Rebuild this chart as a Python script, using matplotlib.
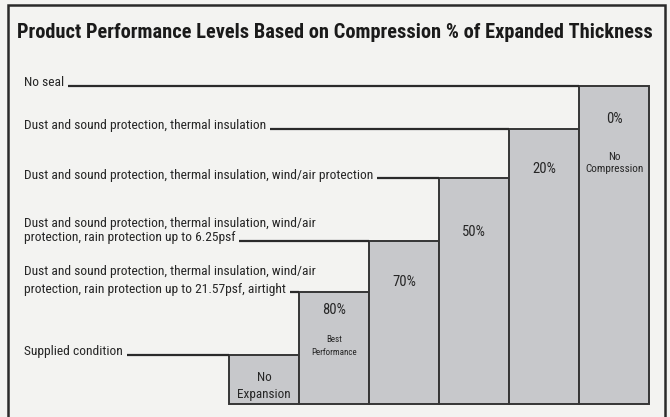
import matplotlib
matplotlib.use("Agg")
import matplotlib.pyplot as plt
from matplotlib.patches import Rectangle

# data
title = "Product Performance Levels Based on Compression % of Expanded Thickness"
bar_labels = ["No\nExpansion", "80%", "70%", "50%", "20%", "0%"]
bar_notes = ["", "Best\nPerformance", "", "", "", "No\nCompression"]
levels = [0.49, 1.12, 1.63, 2.26, 2.75, 3.18]   # step heights (arbitrary units)
conditions = [
    "Supplied condition",
    "Dust and sound protection, thermal insulation, wind/air\nprotection, rain protection up to 21.57psf, airtight",
    "Dust and sound protection, thermal insulation, wind/air\nprotection, rain protection up to 6.25psf",
    "Dust and sound protection, thermal insulation, wind/air protection",
    "Dust and sound protection, thermal insulation",
    "No seal",
]

# styling / placement
spacing = [1.2, 1.45, 1.2, 1.2, 1.2, 1.2]
lab_drop = [0, 0.18, 0.41, 0.54, 0.40, 0.33]     # label distance below step top
note_drop = [0, 0.54, 0, 0, 0, 0.77]
note_size = [0, 6.5, 0, 0, 0, 8]
note_ls = [0, 1.7, 0, 0, 0, 1.25]

FAM = ["Liberation Sans Narrow", "Arial Narrow", "Roboto Condensed",
       "Archivo Narrow", "Asap Condensed", "DejaVu Sans"]
BG = "#f3f3f1"
BAR = "#c7c8cb"
INK = "#262626"

fig = plt.figure(figsize=(6.7, 4.17), dpi=100)
fig.patch.set_facecolor(BG)
ax = fig.add_axes([0, 0, 1, 1])
ax.set_facecolor(BG)
ax.axis("off")
# 70 px per column, 100 px per level unit
ax.set_xlim(-229 / 70, 441 / 70)
ax.set_ylim(-0.13, 4.04)

# outer frame
fig.patches.append(Rectangle((8 / 670, -0.05), 657 / 670, 1 - 5 / 417 + 0.05,
                             transform=fig.transFigure, fill=False,
                             edgecolor="#2a2a2a", linewidth=1.8))

fig.text(0.5, 1 - 32 / 417, title, ha="center", va="center", fontsize=14.7,
         fontweight="bold", color="#1a1a1a", family=FAM)

# staircase bars
ax.bar(range(len(levels)), levels, width=1, align="edge", color=BAR,
       edgecolor="#353535", linewidth=1.4, zorder=2)

for i, (lab, note, h) in enumerate(zip(bar_labels, bar_notes, levels)):
    if i == 0:
        ax.text(i + 0.5, h / 2 - 0.065, lab, ha="center", va="center",
                fontsize=9.5, color=INK, family=FAM, linespacing=1.4, zorder=3)
        continue
    ax.text(i + 0.5, h - lab_drop[i], lab, ha="center", va="center",
            fontsize=10.5, color=INK, family=FAM, zorder=3)
    if note:
        ax.text(i + 0.5, h - note_drop[i], note, ha="center", va="center",
                fontsize=note_size[i], color=INK, family=FAM,
                linespacing=note_ls[i], zorder=3)

# condition labels with leader lines into the step tops
x0 = (24 - 229) / 70
lab_kw = dict(fontsize=9.7, color=INK, family=FAM)
for i, (cond, ls) in enumerate(zip(conditions, spacing)):
    y = levels[i] - 0.035
    ax.text(x0, y, cond, ha="left", va="bottom", linespacing=ls, **lab_kw)
    # leader line starts after the last text line
    probe = ax.text(x0, y, cond.split("\n")[-1], ha="left", va="bottom", **lab_kw)
    fig.canvas.draw()
    bb = probe.get_window_extent(fig.canvas.get_renderer())
    probe.remove()
    xe = ax.transData.inverted().transform((bb.x1 + 4, bb.y0))[0]
    ax.plot([xe, i], [levels[i], levels[i]], color="#2a2a2a", linewidth=1.6,
            solid_capstyle="butt", zorder=3)

fig.savefig("out.png", dpi=100, facecolor=BG)
